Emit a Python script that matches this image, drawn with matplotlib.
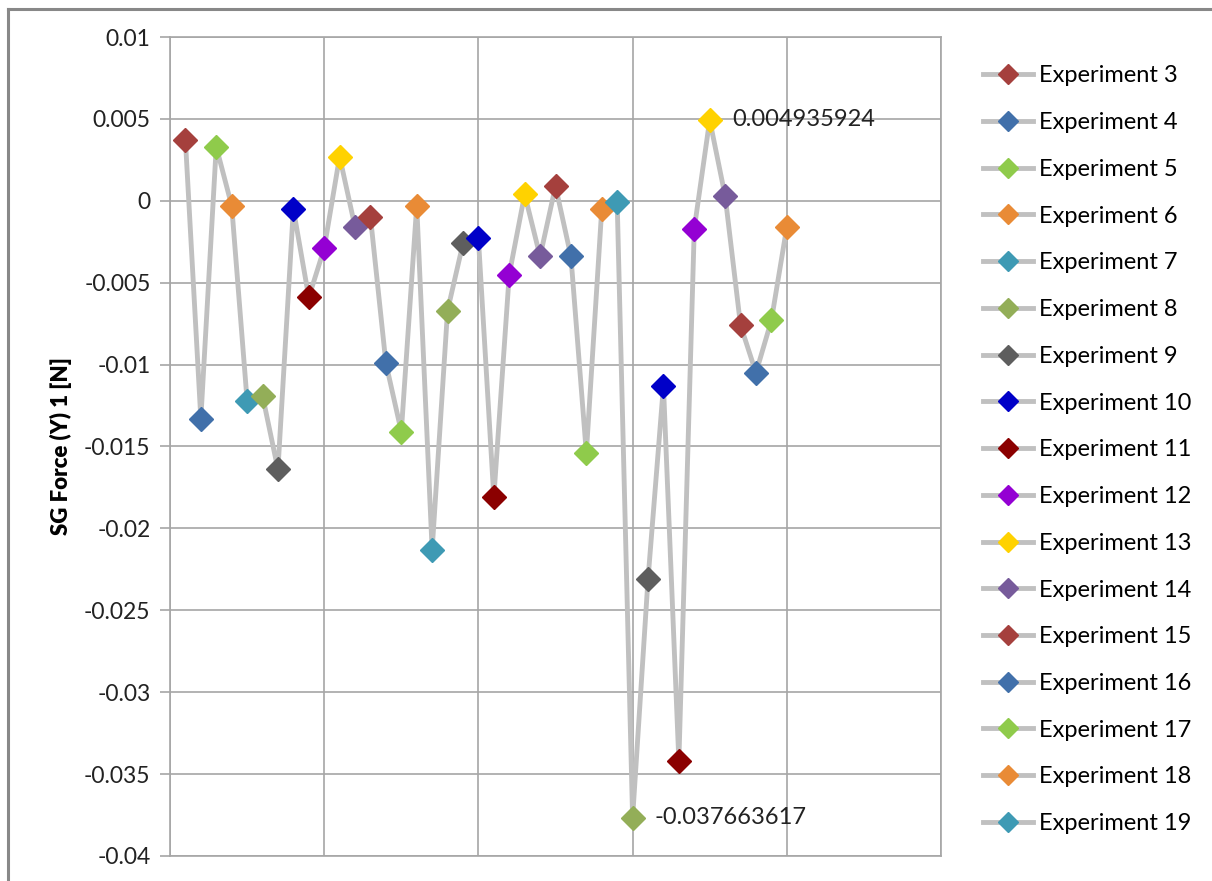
import matplotlib
matplotlib.use('Agg')
import matplotlib.pyplot as plt
from matplotlib.lines import Line2D

plt.rcParams['font.family'] = ['Lato', 'DejaVu Sans']

# SG force readings, one per run, in run order
runs = list(range(1, 41))
force = [0.0037, -0.0133, 0.0033, -0.0003, -0.0122, -0.0119, -0.0164, -0.0005,
         -0.0059, -0.0029, 0.0027, -0.0016, -0.0010, -0.0099, -0.0141, -0.0003,
         -0.0213, -0.0067, -0.0026, -0.0023, -0.0181, -0.0045, 0.0004, -0.0034,
         0.0009, -0.0034, -0.0154, -0.0005, -0.0001, -0.037663617, -0.0231, -0.0113,
         -0.0342, -0.0017, 0.004935924, 0.0003, -0.0076, -0.0105, -0.0073, -0.0016]

experiments = ['Experiment %d' % n for n in range(3, 20)]

# point colours cycle through this palette
palette = ['#A5403D', '#4170AA', '#8FCB4B', '#E98B36', '#3E9AB4', '#93AE58',
           '#5E5E5E', '#0000C8', '#8B0000', '#9400D3', '#FFD200', '#775B9B']
line_grey = '#C0C0C0'
grid_grey = '#A6A6A6'

labelled = [30, 35]  # runs with value labels

fig = plt.figure(figsize=(12.12, 8.81), dpi=100)
ax = fig.add_axes([170 / 1212, 25 / 881, 771 / 1212, 819 / 881])

ax.plot(runs, force, color=line_grey, lw=3.5, zorder=2, solid_joinstyle='miter')
for i, (x, y) in enumerate(zip(runs, force)):
    ax.plot(x, y, marker='D', ms=12, color=palette[i % len(palette)],
            mec=palette[i % len(palette)], ls='none', zorder=3)

for r in labelled:
    y = force[r - 1]
    ax.annotate('%.9f' % y, (r, y), xytext=(16, 0), textcoords='offset points',
                va='center', ha='left', fontsize=17, color='#222222')

ax.set_xlim(0, 50)
ax.set_ylim(-0.04, 0.01)
ax.set_xticks(range(0, 51, 10))
ax.set_xticklabels([])
ax.set_yticks([0.01, 0.005, 0, -0.005, -0.01, -0.015, -0.02, -0.025,
               -0.03, -0.035, -0.04])
ax.set_yticklabels(['0.01', '0.005', '0', '-0.005', '-0.01', '-0.015', '-0.02',
                    '-0.025', '-0.03', '-0.035', '-0.04'], fontsize=16.5, color='#222222')
ax.tick_params(axis='x', length=0)
ax.tick_params(axis='y', length=7, color=grid_grey, width=1.2, pad=7)
ax.grid(True, color=grid_grey, lw=1.2, zorder=0)
ax.set_axisbelow(True)
for s in ax.spines.values():
    s.set_color(grid_grey)
    s.set_linewidth(1.2)

ax.set_ylabel('SG Force (Y) 1 [N]', fontsize=16, fontweight='heavy', labelpad=9)

handles = [Line2D([], [], color=line_grey, lw=3.5, marker='D', ms=10,
                  mfc=palette[i % len(palette)], mec=palette[i % len(palette)])
           for i in range(len(experiments))]
fig.legend(handles, experiments, loc='upper left', bbox_to_anchor=(974 / 1212, 1 - 56 / 881),
           frameon=False, fontsize=17, handlelength=2.1, handletextpad=0.25,
           labelspacing=1.09, borderaxespad=0)

# chart area border
fig.add_artist(Line2D([8 / 1212, 8 / 1212], [0, 1 - 9 / 881], color='#888888', lw=2.2))
fig.add_artist(Line2D([8 / 1212, 1], [1 - 9 / 881, 1 - 9 / 881], color='#888888', lw=2.2))

fig.savefig('out.png', dpi=100)
